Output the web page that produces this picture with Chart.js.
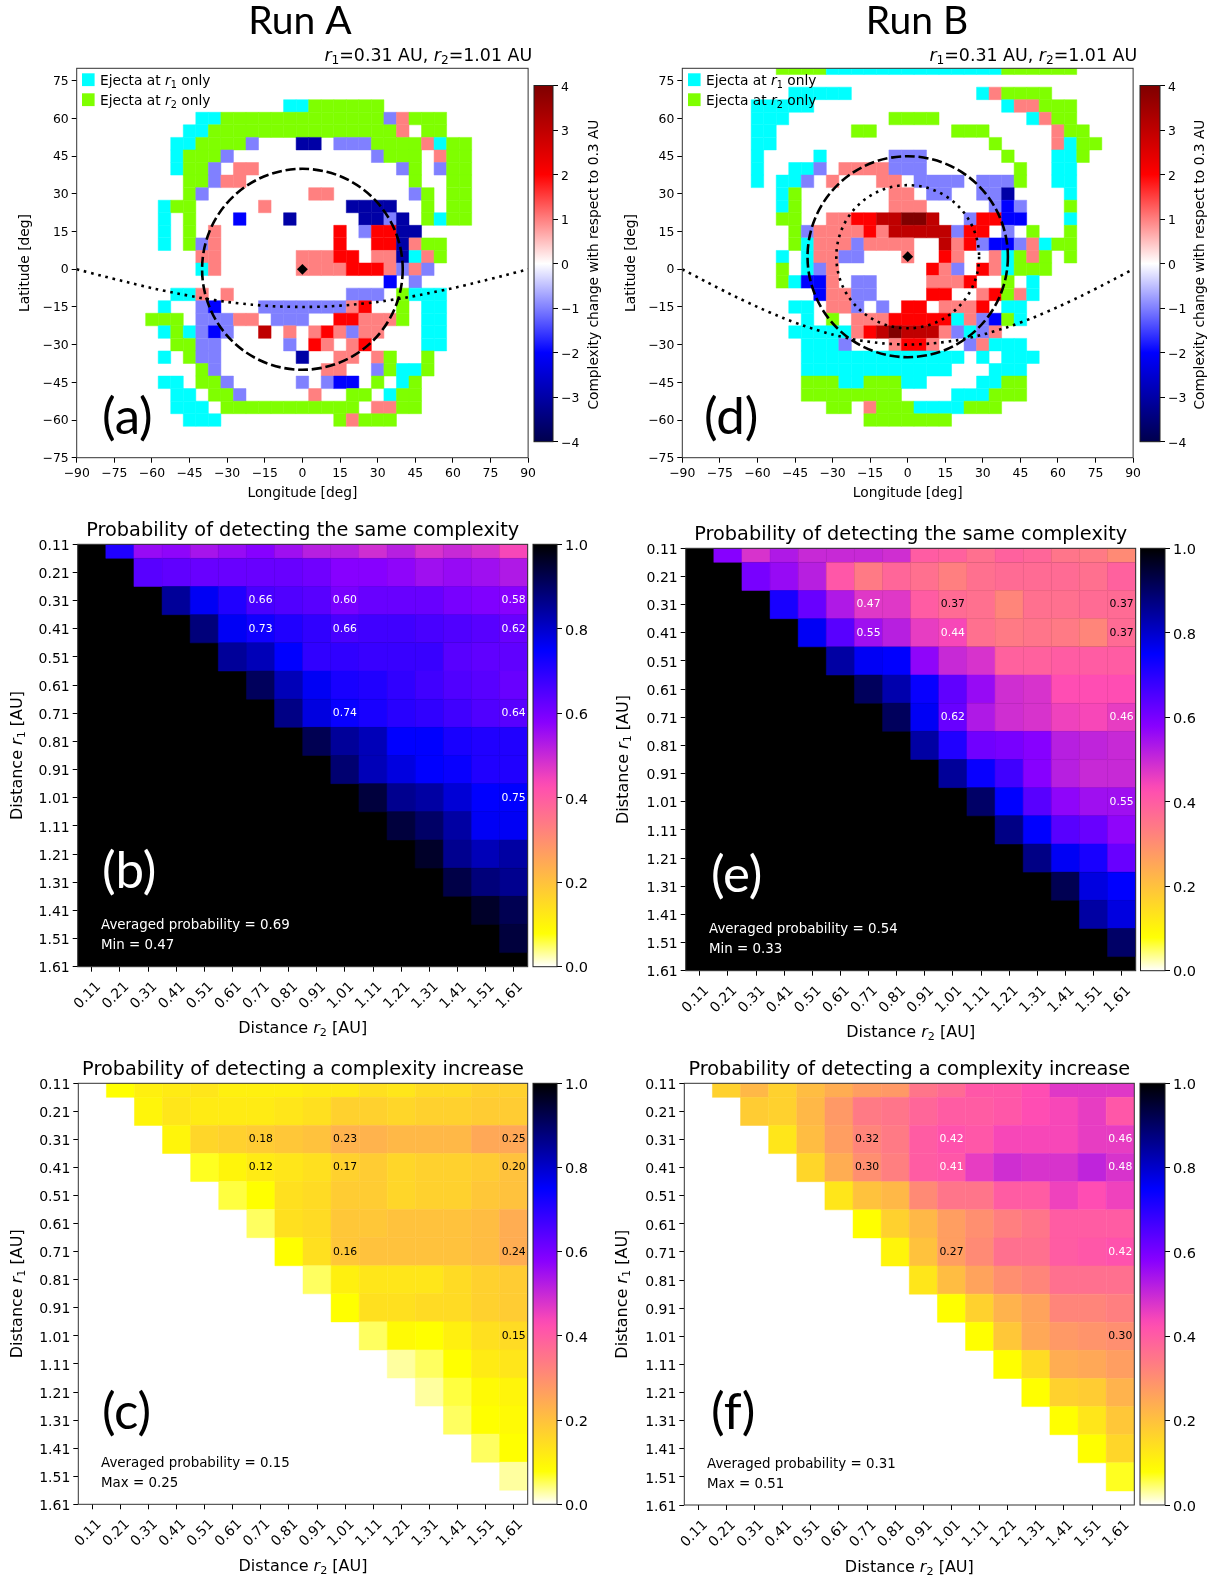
<!DOCTYPE html>
<html>
<head>
<meta charset="utf-8">
<title>Complexity maps and detection probabilities</title>
<script src="https://cdn.jsdelivr.net/npm/chart.js@4"></script>
<style>
body { margin: 0; background: #fff; }
#page { position: relative; width: 1220px; height: 1580px; overflow: hidden; }
canvas { position: absolute; }
</style>
</head>
<body>
<div id="page"></div>
<script>
// tick labels
const distanceLabels = ['0.11', '0.21', '0.31', '0.41', '0.51', '0.61', '0.71', '0.81', '0.91', '1.01', '1.11', '1.21', '1.31', '1.41', '1.51', '1.61'];
const lonTicks = [-90, -75, -60, -45, -30, -15, 0, 15, 30, 45, 60, 75, 90];
const latTicks = [-75, -60, -45, -30, -15, 0, 15, 30, 45, 60, 75];
const complexityTicks = [-4, -3, -2, -1, 0, 1, 2, 3, 4];
const probabilityTicks = [0, 0.2, 0.4, 0.6, 0.8, 1];

// code -> complexity change; c = ejecta at r1 only, g = ejecta at r2 only, '.' = nothing
const cellCodes = { A: -1, B: -2, N: -3, P: 1, R: 2, D: 3, K: 4 };

// maps: [latitude, first longitude, run-length codes in 5 deg steps]
const runARows = [
    [65, -5, 'c2 g6'],
    [60, -40, 'c2 g13 A P g3'],
    [55, -45, 'c2 g15 P . g2'],
    [50, -50, 'c2 g4 A .3 N2 . A3 g4 P c g2'],
    [45, -50, 'c g3 A .11 A g3 . P g2'],
    [40, -50, 'c g2 A . P2 .11 A g . A g2'],
    [35, -45, 'g2 A P2 .13 g .2 g2'],
    [30, -45, 'g A .8 P2 .6 A g . g2'],
    [25, -55, 'c g2 .5 P .6 N4 .2 g . g2'],
    [20, -55, 'c . g .3 B .3 N .5 N2 A N . g c g2'],
    [15, -55, 'c . g . P .9 R . A R2 N2'],
    [10, -55, 'c . g A P .9 R .2 R2 N P g2'],
    [5, -40, 'P2 .6 P3 R2 . P2 N c P g'],
    [0, -40, 'c P .6 P4 R3 P A P A'],
    [-5, 35, 'B . A'],
    [-10, -50, 'c2 P . P .9 A3 . g c3'],
    [-15, -55, 'c .2 A B .3 A7 P R .2 g . c2'],
    [-20, -60, 'g3 . A3 P2 . A3 .2 R2 P3 g . c2'],
    [-25, -55, 'c g c A B A .2 D . P . P R P A P2 .3 c2'],
    [-30, -50, 'g2 A2 .5 A . R P . P R .4 c2'],
    [-35, -55, 'c . g A2 .6 N .2 P2 . P g .2 g'],
    [-40, -40, 'g A .8 P2 .2 A g c2 g'],
    [-45, -55, 'c2 . g2 A .5 A . A B2 . g . c g'],
    [-50, -50, 'c2 . g2 A .5 P .2 g2 . c g2'],
    [-55, -50, 'c3 . g11 . P2 g2'],
    [-60, -45, 'c3 .9 g P g3']
];
const runBRows = [
    [80, -50, 'g4 c14 g6'],
    [70, -45, 'c5 .10 c P g4'],
    [65, -60, 'c5 .15 c P2 g3'],
    [60, -60, 'c3 .8 g4 .7 c P g2'],
    [55, -60, 'c2 .6 g2 .6 g3 .5 P g2'],
    [50, -60, 'c2 .17 g .4 P c g2'],
    [45, -60, 'c .4 c .5 A3 .6 g .3 c2 g'],
    [40, -60, 'c .2 c2 A . P4 A3 .7 g .2 c2'],
    [35, -60, 'c . c2 A . P .3 P2 . A4 . A3 g .2 c2'],
    [30, -50, 'c g .7 P2 . A2 .2 A2 N .4 c'],
    [25, -50, 'c g .7 P3 .5 A B A .3 g'],
    [20, -50, 'g2 .2 P2 R2 D2 K2 D .2 A R2 B2 .3 c'],
    [15, -45, 'g A P4 R P D5 A R2 . A . g .2 g'],
    [10, -45, 'g c P3 A P4 .2 D P R A B2 A P c g2'],
    [5, -50, 'c . c P2 A2 .3 P .2 R P .2 P c g P g . g'],
    [0, -50, 'g . c A P .7 R P A . R P c g3'],
    [-5, -50, 'g c B2 P . A2 .4 P3 R .2 g . c'],
    [-10, -35, 'B P2 A2 .4 R2 .2 P R g P c'],
    [-15, -45, 'c2 . P2 A . A . R2 . P3 R . c2'],
    [-20, -40, 'c . g . P3 R5 c P A B g c'],
    [-25, -45, 'c5 P R D K D3 P A c A P'],
    [-30, -40, 'c3 A .3 P R2 P .2 A P c3'],
    [-35, -40, 'c13 . c . c3'],
    [-40, -40, 'c12 .3 c3'],
    [-45, -40, 'g3 c2 g3 c2 .4 c2 g2'],
    [-50, -40, 'g8 .4 c3 g3'],
    [-55, -30, 'g2 . P g3 c4 g3'],
    [-60, -15, 'g7']
];

// dotted current sheet and the source position of each map
const sheetLon = [-90, -80, -70, -60, -50, -40, -30, -20, -10, 0, 10, 20, 30, 40, 50, 60, 70, 80, 90];
const sheetLatA = [0, -2.6, -5.1, -7.5, -9.6, -11.5, -13, -14.1, -14.8, -15, -14.8, -14.1, -13, -11.5, -9.6, -7.5, -5.1, -2.6, 0];
const sheetLatB = [0, -5.2, -10.3, -15, -19.3, -23, -26, -28.2, -29.5, -30, -29.5, -28.2, -26, -23, -19.3, -15, -10.3, -5.2, 0];
const sourceA = [0, 0];
const sourceB = [0, 5];
const circlesA = [[0, 0, 40, 'dash']];
const circlesB = [[0, 5, 40, 'dash'], [0, 5, 28.5, 'dot']];

// probabilities, row r1 = distanceLabels[i], columns start right of the diagonal
const sameRunA = [
    [.71, .56, .57, .54, .56, .58, .55, .52, .52, .49, .52, .48, .50, .48, .44],
    [.64, .63, .62, .62, .62, .62, .61, .58, .58, .57, .55, .56, .55, .53],
    [.85, .76, .71, .66, .65, .64, .60, .62, .62, .62, .60, .59, .58],
    [.88, .76, .73, .71, .69, .66, .67, .67, .66, .65, .64, .62],
    [.85, .82, .75, .69, .69, .68, .68, .68, .64, .63, .63],
    [.91, .82, .76, .72, .71, .69, .67, .65, .64, .62],
    [.87, .78, .74, .72, .70, .69, .67, .65, .64],
    [.92, .85, .82, .75, .75, .72, .71, .71],
    [.89, .82, .78, .75, .74, .71, .71],
    [.94, .86, .84, .79, .75, .75],
    [.94, .90, .84, .76, .76],
    [.96, .86, .82, .84],
    [.93, .88, .86],
    [.96, .92],
    [.94]
];
const sameRunB = [
    [.58, .48, .53, .50, .50, .50, .49, .40, .39, .36, .39, .38, .35, .34, .31],
    [.60, .56, .52, .41, .34, .38, .36, .33, .36, .37, .37, .37, .36, .39],
    [.72, .62, .53, .47, .47, .40, .37, .36, .32, .36, .36, .37, .37],
    [.76, .64, .55, .52, .46, .44, .36, .34, .35, .34, .32, .37],
    [.84, .76, .75, .57, .50, .48, .39, .39, .40, .40, .40],
    [.91, .83, .74, .63, .56, .49, .48, .43, .43, .43],
    [.91, .76, .62, .53, .49, .48, .45, .44, .46],
    [.84, .71, .61, .60, .58, .52, .51, .50],
    [.85, .74, .67, .58, .52, .50, .50],
    [.90, .75, .64, .57, .55, .55],
    [.87, .75, .64, .62, .57],
    [.87, .76, .72, .62],
    [.92, .78, .75],
    [.84, .78],
    [.90]
];
const increaseRunA = [
    [.08, .11, .12, .13, .11, .11, .11, .12, .12, .14, .13, .15, .15, .17, .17],
    [.10, .13, .12, .12, .12, .13, .14, .17, .17, .16, .17, .17, .18, .18],
    [.10, .16, .17, .18, .19, .20, .23, .23, .22, .22, .22, .25, .25],
    [.07, .10, .12, .13, .14, .17, .18, .16, .17, .17, .18, .20],
    [.06, .08, .14, .15, .18, .18, .16, .17, .17, .19, .20],
    [.05, .14, .15, .19, .19, .20, .20, .20, .21, .24],
    [.08, .14, .19, .20, .20, .20, .20, .21, .24],
    [.05, .11, .13, .13, .13, .15, .17, .18],
    [.08, .14, .14, .15, .15, .17, .18],
    [.05, .09, .08, .11, .14, .15],
    [.03, .05, .08, .12, .13],
    [.03, .06, .09, .10],
    [.05, .08, .09],
    [.05, .08],
    [.03]
];
const increaseRunB = [
    [.17, .22, .17, .21, .24, .27, .28, .35, .37, .41, .41, .43, .47, .47, .47],
    [.18, .17, .22, .28, .34, .35, .38, .40, .40, .41, .43, .44, .46, .41],
    [.13, .21, .27, .32, .34, .40, .42, .41, .44, .44, .44, .46, .46],
    [.16, .24, .30, .33, .40, .41, .46, .49, .48, .48, .51, .48],
    [.13, .20, .22, .31, .35, .35, .40, .40, .45, .43, .45],
    [.08, .17, .22, .27, .30, .33, .35, .40, .40, .40],
    [.10, .20, .27, .31, .36, .36, .40, .41, .42],
    [.13, .21, .26, .30, .32, .36, .36, .36],
    [.08, .17, .23, .26, .32, .32, .33],
    [.08, .19, .25, .28, .29, .30],
    [.08, .15, .24, .25, .27],
    [.08, .17, .18, .23],
    [.08, .13, .19],
    [.08, .16],
    [.07]
];

// printed numbers: [row, column, text]
const sameLabelsA = [[2, 6, '0.66'], [2, 9, '0.60'], [2, 15, '0.58'], [3, 6, '0.73'], [3, 9, '0.66'], [3, 15, '0.62'], [6, 9, '0.74'], [6, 15, '0.64'], [9, 15, '0.75']];
const sameLabelsB = [[2, 6, '0.47'], [2, 9, '0.37'], [2, 15, '0.37'], [3, 6, '0.55'], [3, 9, '0.44'], [3, 15, '0.37'], [6, 9, '0.62'], [6, 15, '0.46'], [9, 15, '0.55']];
const increaseLabelsA = [[2, 6, '0.18'], [2, 9, '0.23'], [2, 15, '0.25'], [3, 6, '0.12'], [3, 9, '0.17'], [3, 15, '0.20'], [6, 9, '0.16'], [6, 15, '0.24'], [9, 15, '0.15']];
const increaseLabelsB = [[2, 6, '0.32'], [2, 9, '0.42'], [2, 15, '0.46'], [3, 6, '0.30'], [3, 9, '0.41'], [3, 15, '0.48'], [6, 9, '0.27'], [6, 15, '0.42'], [9, 15, '0.30']];

const CYAN = '#00ffff';
const GREEN = '#7fff00';
const SANS = '"DejaVu Sans"';

Chart.defaults.font.family = 'DejaVu Sans';
Chart.defaults.color = '#000';
Chart.defaults.animation = false;

const clamp = v => Math.max(0, Math.min(1, v));
const rgb = (r, g, b) => `rgb(${Math.round(r * 255)},${Math.round(g * 255)},${Math.round(b * 255)})`;
const minus = v => String(v).replace('-', '\u2212');

// seismic, -4..4
function seismic(v) {
    const t = (v + 4) / 8;
    if (t < 0.25) return rgb(0, 0, 0.3 + 0.7 * t / 0.25);
    if (t < 0.5) { const s = (t - 0.25) / 0.25; return rgb(s, s, 1); }
    if (t < 0.75) { const s = (0.75 - t) / 0.25; return rgb(1, s, s); }
    return rgb(1 - 0.5 * (t - 0.75) / 0.25, 0, 0);
}

// gnuplot2 reversed, 0..1
function gnuplot(p) {
    const x = 1 - p;
    const b = x < 0.25 ? 4 * x : (x < 0.92 ? -2 * x + 1.84 : x / 0.08 - 11.5);
    return rgb(clamp(x / 0.32 - 0.78125), clamp(2 * x - 0.84), clamp(b));
}

function addCanvas(x, y, w, h) {
    const c = document.createElement('canvas');
    c.width = w;
    c.height = h;
    c.style.left = x + 'px';
    c.style.top = y + 'px';
    c.style.width = w + 'px';
    c.style.height = h + 'px';
    document.getElementById('page').appendChild(c);
    return c;
}

// text with italic and subscript parts: ['r', 'i'], ['1', 's'], [' only']
function drawRuns(ctx, runs, x, y, size, opts) {
    opts = opts || {};
    const fontOf = r => {
        if (r[1] === 's') return `${size * 0.7}px ${SANS}`;
        if (r[1] === 'i') return `italic ${size}px ${SANS}`;
        return `${size}px ${opts.family || SANS}`;
    };
    let total = 0;
    runs.forEach(r => { ctx.font = fontOf(r); total += ctx.measureText(r[0]).width; });
    ctx.save();
    ctx.translate(x, y);
    if (opts.rotate) ctx.rotate(opts.rotate);
    ctx.fillStyle = opts.color || '#000';
    ctx.textAlign = 'left';
    ctx.textBaseline = 'middle';
    // middle baseline sits a little high for the small sans text
    const nudge = size < 25 ? size * 0.1 : 0;
    let cx = opts.align === 'left' ? 0 : (opts.align === 'right' ? -total : -total / 2);
    runs.forEach(r => {
        ctx.font = fontOf(r);
        ctx.fillText(r[0], cx, nudge + (r[1] === 's' ? size * 0.25 : 0));
        cx += ctx.measureText(r[0]).width;
    });
    ctx.restore();
}

const AXIS_W = 52;
const AXIS_H = 60;

function framePadding(frame, plot) {
    return {
        left: plot.left - frame.x - AXIS_W,
        top: plot.top - frame.y,
        right: frame.x + frame.w - plot.right,
        bottom: frame.y + frame.h - plot.bottom - AXIS_H
    };
}

function axisBase(extra) {
    return Object.assign({
        type: 'linear',
        grid: { drawOnChartArea: false, drawTicks: true, tickLength: 5, tickColor: '#000', lineWidth: 1 },
        border: { display: false }
    }, extra);
}

function overlayPlugin(panel) {
    const f = panel.frame;
    return {
        id: 'overlay' + panel.letter,
        beforeDatasetsDraw(chart) {
            const a = chart.chartArea;
            chart.ctx.fillStyle = panel.background;
            chart.ctx.fillRect(a.left, a.top, a.right - a.left, a.bottom - a.top);
        },
        afterDatasetsDraw(chart) {
            const ctx = chart.ctx, a = chart.chartArea;
            const sx = chart.scales.x, sy = chart.scales.y;
            (panel.circles || []).forEach(c => {
                ctx.save();
                ctx.beginPath();
                ctx.rect(a.left, a.top, a.right - a.left, a.bottom - a.top);
                ctx.clip();
                ctx.beginPath();
                ctx.ellipse(sx.getPixelForValue(c[0]), sy.getPixelForValue(c[1]),
                    Math.abs(sx.getPixelForValue(c[2]) - sx.getPixelForValue(0)),
                    Math.abs(sy.getPixelForValue(c[2]) - sy.getPixelForValue(0)), 0, 0, Math.PI * 2);
                ctx.strokeStyle = '#000';
                ctx.lineWidth = 2.6;
                ctx.setLineDash(c[3] === 'dash' ? [10, 3.8] : [2.6, 4.8]);
                ctx.stroke();
                ctx.restore();
            });
            (panel.cellLabels || []).forEach(l => {
                ctx.font = `10.8px ${SANS}`;
                ctx.textAlign = 'center';
                ctx.textBaseline = 'middle';
                ctx.fillStyle = parseFloat(l[2]) < 0.4 ? '#000' : '#fff';
                ctx.fillText(l[2], sx.getPixelForValue(l[1]), sy.getPixelForValue(l[0]));
            });
            ctx.strokeStyle = '#333';
            ctx.lineWidth = 1;
            ctx.setLineDash([]);
            ctx.strokeRect(a.left, a.top, a.right - a.left, a.bottom - a.top);

            (panel.legend || []).forEach(l => {
                ctx.fillStyle = l.color;
                ctx.fillRect(l.x - f.x, l.y - 6.4 - f.y, 12.6, 12.8);
                drawRuns(ctx, [['Ejecta at '], ['r', 'i'], [l.sub, 's'], [' only']], l.x + 18 - f.x, l.y + 0.7 - f.y, 13.8, { align: 'left' });
            });
            (panel.notes || []).forEach(n => {
                drawRuns(ctx, [[n.text]], n.x - f.x, n.y - f.y, 13.4, { align: 'left', color: panel.noteColor });
            });
            drawRuns(ctx, [[panel.tag]], panel.tagX - f.x, panel.tagY - f.y, 51, { align: 'left', family: 'Lato', color: panel.noteColor });
            if (panel.title) {
                drawRuns(ctx, [[panel.title]], (a.left + a.right) / 2, panel.titleY - f.y, 19.3);
            }
            if (panel.runTitle) {
                drawRuns(ctx, [[panel.runTitle]], panel.runX - f.x, 21 - f.y, 39, { family: 'Lato' });
                drawRuns(ctx, [['r', 'i'], ['1', 's'], ['=0.31 AU, '], ['r', 'i'], ['2', 's'], ['=1.01 AU']], a.right + 4, 55 - f.y, 17.4, { align: 'right' });
            }
            drawRuns(ctx, panel.xTitle, (a.left + a.right) / 2, panel.xTitleY - f.y, panel.titleSize);
            drawRuns(ctx, panel.yTitle, panel.yTitleX - f.x, (a.top + a.bottom) / 2, panel.titleSize, { rotate: -Math.PI / 2 });
        }
    };
}

function expandRows(rows) {
    const out = [];
    rows.forEach(row => {
        let lon = row[1];
        row[2].split(' ').forEach(tok => {
            const code = tok[0];
            const n = tok.length > 1 ? parseInt(tok.slice(1), 10) : 1;
            for (let i = 0; i < n; i++) {
                if (code !== '.') {
                    const color = code === 'c' ? CYAN : (code === 'g' ? GREEN : seismic(cellCodes[code]));
                    out.push({ x: lon, y: row[0], color: color });
                }
                lon += 5;
            }
        });
    });
    return out;
}

function triangleCells(rows) {
    const out = [];
    rows.forEach((row, i) => row.forEach((p, k) => {
        out.push({ x: i + 1 + k, y: i, color: gnuplot(p) });
    }));
    return out;
}

function cellDataset(cells, sizeUnit) {
    return {
        data: cells,
        showLine: false,
        order: 3,
        clip: 0,
        pointStyle: 'rect',
        pointRadius: ctx => {
            const s = ctx.chart.scales.x;
            return Math.abs(s.getPixelForValue(sizeUnit) - s.getPixelForValue(0)) * Math.SQRT1_2;
        },
        pointHoverRadius: 0,
        pointBorderWidth: 0.5,
        pointBackgroundColor: cells.map(c => c.color),
        pointBorderColor: cells.map(c => c.color)
    };
}

function drawPanel(panel, datasets, scales) {
    new Chart(addCanvas(panel.frame.x, panel.frame.y, panel.frame.w, panel.frame.h), {
        type: 'scatter',
        data: { datasets: datasets },
        options: {
            responsive: false,
            events: [],
            layout: { padding: framePadding(panel.frame, panel.plot) },
            plugins: { legend: { display: false }, tooltip: { enabled: false } },
            scales: scales
        },
        plugins: [overlayPlugin(panel)]
    });
}

function fixedTicks(values) {
    return s => { s.ticks = values.map(v => ({ value: v })); };
}

function drawMap(panel, rows, sheetLat, source) {
    const sheet = sheetLon.map((x, i) => ({ x: x, y: sheetLat[i] }));
    drawPanel(panel, [
        {
            data: [{ x: source[0], y: source[1] }], order: 1, showLine: false,
            pointStyle: 'rectRot', pointRadius: 5.4, pointBackgroundColor: '#000', pointBorderColor: '#000', pointBorderWidth: 0
        },
        {
            data: sheet, order: 2, showLine: true, tension: 0.2, pointRadius: 0,
            borderColor: '#000', borderWidth: 2.6, borderDash: [2.6, 4.8], borderCapStyle: 'butt'
        },
        cellDataset(expandRows(rows), 5)
    ], {
        x: axisBase({
            min: -90, max: 90,
            afterBuildTicks: fixedTicks(lonTicks),
            afterFit: s => { s.height = AXIS_H; },
            ticks: { autoSkip: false, maxRotation: 0, minRotation: 0, padding: 4, font: { size: 12.4 }, callback: minus }
        }),
        y: axisBase({
            min: -75, max: 80,
            afterBuildTicks: fixedTicks(latTicks),
            afterFit: s => { s.width = AXIS_W; },
            ticks: { autoSkip: false, padding: 3, labelOffset: 1, font: { size: 12.4 }, callback: minus }
        })
    });
}

function drawHeat(panel, rows) {
    drawPanel(panel, [cellDataset(triangleCells(rows), 1)], {
        x: axisBase({
            min: -0.5, max: 15.5,
            afterBuildTicks: fixedTicks(distanceLabels.map((l, i) => i)),
            afterFit: s => { s.height = AXIS_H; },
            ticks: { autoSkip: false, maxRotation: 45, minRotation: 45, labelOffset: 7, padding: 7, font: { size: 14 }, callback: v => distanceLabels[v] }
        }),
        y: axisBase({
            min: 0, max: 15, reverse: true,
            afterBuildTicks: fixedTicks(distanceLabels.map((l, i) => i)),
            afterFit: s => { s.width = AXIS_W; },
            ticks: { autoSkip: false, padding: 3, labelOffset: 2, font: { size: 14 }, callback: v => distanceLabels[v] }
        })
    });
}

function drawColorbar(bar) {
    const f = bar.frame;
    new Chart(addCanvas(f.x, f.y, f.w, f.h), {
        type: 'bar',
        data: {
            labels: [''],
            datasets: [{
                data: [[bar.min, bar.max]],
                barPercentage: 1,
                categoryPercentage: 1,
                borderWidth: 0,
                backgroundColor: ctx => {
                    const a = ctx.chart.chartArea;
                    if (!a) return '#000';
                    const g = ctx.chart.ctx.createLinearGradient(0, a.bottom, 0, a.top);
                    for (let i = 0; i <= 64; i++) {
                        g.addColorStop(i / 64, bar.color(bar.min + (bar.max - bar.min) * i / 64));
                    }
                    return g;
                }
            }]
        },
        options: {
            responsive: false,
            events: [],
            layout: {
                padding: {
                    left: bar.left - f.x,
                    top: bar.top - f.y,
                    right: f.x + f.w - bar.right - 40,
                    bottom: f.y + f.h - bar.bottom
                }
            },
            plugins: { legend: { display: false }, tooltip: { enabled: false } },
            scales: {
                x: { display: false },
                y: axisBase({
                    position: 'right',
                    min: bar.min, max: bar.max,
                    afterBuildTicks: fixedTicks(bar.ticks),
                    afterFit: s => { s.width = 40; },
                    ticks: { autoSkip: false, padding: 3, labelOffset: 2, font: { size: bar.fontSize }, callback: bar.format }
                })
            }
        },
        plugins: [{
            id: 'barFrame',
            afterDatasetsDraw(chart) {
                const ctx = chart.ctx, a = chart.chartArea;
                ctx.strokeStyle = '#222';
                ctx.lineWidth = 1;
                ctx.strokeRect(a.left, a.top, a.right - a.left, a.bottom - a.top);
                if (bar.label) {
                    drawRuns(ctx, [[bar.label]], bar.labelX - f.x, (a.top + a.bottom) / 2 + 1, 13.75, { rotate: -Math.PI / 2 });
                }
            }
        }]
    });
}

const distanceX = [['Distance '], ['r', 'i'], ['2', 's'], [' [AU]']];
const distanceY = [['Distance '], ['r', 'i'], ['1', 's'], [' [AU]']];

function mapPanel(letter, frameX, plot, rest) {
    return Object.assign({
        letter: letter, tag: `(${letter})`, frame: { x: frameX, y: 0, w: 540, h: 520 }, plot: plot,
        background: '#fff', noteColor: '#000', titleSize: 13.8,
        xTitle: [['Longitude [deg]']], xTitleY: 492.5, yTitle: [['Latitude [deg]']], tagY: 418
    }, rest);
}

function heatPanel(letter, frame, plot, rest) {
    return Object.assign({
        letter: letter, tag: `(${letter})`, frame: frame, plot: plot, titleSize: 16,
        xTitle: distanceX, yTitle: distanceY
    }, rest);
}

const TOP_LEGEND = [{ x: 82, y: 79.7, color: CYAN, sub: '1' }, { x: 82, y: 99.7, color: GREEN, sub: '2' }];
const RIGHT_LEGEND = [{ x: 688, y: 79.7, color: CYAN, sub: '1' }, { x: 688, y: 99.7, color: GREEN, sub: '2' }];

drawMap(mapPanel('a', 0, { left: 76.7, right: 528.3, top: 68.3, bottom: 457.7 }, {
    yTitleX: 24.5, tagX: 102, legend: TOP_LEGEND, circles: circlesA, runTitle: 'Run A', runX: 300
}), runARows, sheetLatA, sourceA);
drawMap(mapPanel('d', 605, { left: 682.3, right: 1135, top: 68.3, bottom: 457.7 }, {
    yTitleX: 630.5, tagX: 704, legend: RIGHT_LEGEND, circles: circlesB, runTitle: 'Run B', runX: 917
}), runBRows, sheetLatB, sourceB);

drawHeat(heatPanel('b', { x: 0, y: 510, w: 540, h: 530 }, { left: 77.7, right: 527.7, top: 544.3, bottom: 966.7 }, {
    background: gnuplot(1), noteColor: '#fff', cellLabels: sameLabelsA,
    title: 'Probability of detecting the same complexity', titleY: 529,
    xTitleY: 1027, yTitleX: 16, tagX: 102, tagY: 872,
    notes: [{ text: 'Averaged probability = 0.69', x: 101, y: 924 }, { text: 'Min = 0.47', x: 101, y: 944.5 }]
}), sameRunA);
drawHeat(heatPanel('e', { x: 605, y: 510, w: 540, h: 530 }, { left: 685.7, right: 1135.7, top: 548.3, bottom: 970.7 }, {
    background: gnuplot(1), noteColor: '#fff', cellLabels: sameLabelsB,
    title: 'Probability of detecting the same complexity', titleY: 533,
    xTitleY: 1031, yTitleX: 622.5, tagX: 711, tagY: 876,
    notes: [{ text: 'Averaged probability = 0.54', x: 709, y: 928 }, { text: 'Min = 0.33', x: 709, y: 948.5 }]
}), sameRunB);
drawHeat(heatPanel('c', { x: 0, y: 1045, w: 540, h: 535 }, { left: 78.3, right: 527.7, top: 1083.3, bottom: 1504.3 }, {
    background: '#fff', noteColor: '#000', cellLabels: increaseLabelsA,
    title: 'Probability of detecting a complexity increase', titleY: 1068,
    xTitleY: 1565, yTitleX: 16, tagX: 102, tagY: 1413,
    notes: [{ text: 'Averaged probability = 0.15', x: 101, y: 1462 }, { text: 'Max = 0.25', x: 101, y: 1482.5 }]
}), increaseRunA);
drawHeat(heatPanel('f', { x: 605, y: 1045, w: 540, h: 535 }, { left: 684.3, right: 1134.3, top: 1083.3, bottom: 1505 }, {
    background: '#fff', noteColor: '#000', cellLabels: increaseLabelsB,
    title: 'Probability of detecting a complexity increase', titleY: 1068,
    xTitleY: 1566, yTitleX: 621.5, tagX: 711, tagY: 1413,
    notes: [{ text: 'Averaged probability = 0.31', x: 707, y: 1463 }, { text: 'Max = 0.51', x: 707, y: 1483.5 }]
}), increaseRunB);

const complexityBar = {
    min: -4, max: 4, ticks: complexityTicks, color: seismic, fontSize: 12.4, format: minus,
    label: 'Complexity change with respect to 0.3 AU'
};
const probabilityBar = {
    min: 0, max: 1, ticks: probabilityTicks, color: gnuplot, fontSize: 14.5, format: v => v.toFixed(1)
};

drawColorbar(Object.assign({}, complexityBar, { frame: { x: 530, y: 70, w: 80, h: 390 }, left: 534, right: 553, top: 85.5, bottom: 441.7, labelX: 593 }));
drawColorbar(Object.assign({}, complexityBar, { frame: { x: 1136, y: 70, w: 84, h: 390 }, left: 1140, right: 1160, top: 85.5, bottom: 441.7, labelX: 1199 }));
drawColorbar(Object.assign({}, probabilityBar, { frame: { x: 530, y: 530, w: 80, h: 450 }, left: 533, right: 557, top: 544.3, bottom: 966.7 }));
drawColorbar(Object.assign({}, probabilityBar, { frame: { x: 1136, y: 535, w: 84, h: 450 }, left: 1140.5, right: 1165, top: 548.3, bottom: 970.7 }));
drawColorbar(Object.assign({}, probabilityBar, { frame: { x: 530, y: 1070, w: 80, h: 450 }, left: 533, right: 557, top: 1083.3, bottom: 1504.3 }));
drawColorbar(Object.assign({}, probabilityBar, { frame: { x: 1136, y: 1070, w: 84, h: 450 }, left: 1140, right: 1165, top: 1083.3, bottom: 1505 }));
</script>
</body>
</html>
